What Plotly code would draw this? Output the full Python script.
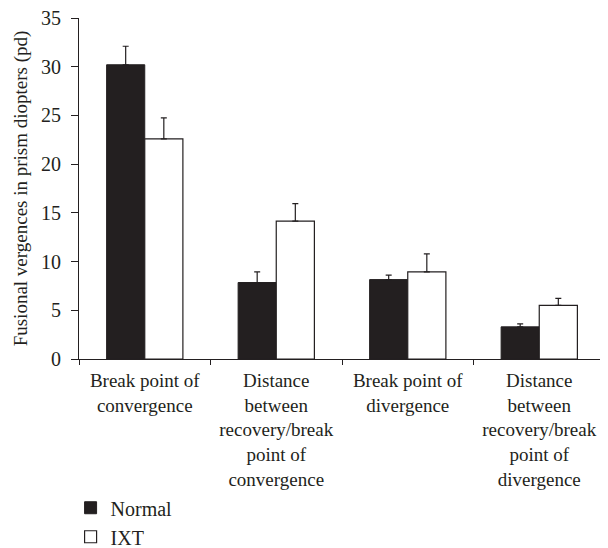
import plotly.graph_objects as go

categories = [
    "Break point of<br>convergence",
    "Distance<br>between<br>recovery/break<br>point of<br>convergence",
    "Break point of<br>divergence",
    "Distance<br>between<br>recovery/break<br>point of<br>divergence",
]
normal_vals = [30.2, 7.85, 8.15, 3.3]
normal_err = [1.9, 1.1, 0.45, 0.3]
ixt_vals = [22.6, 14.15, 8.95, 5.5]
ixt_err = [2.15, 1.8, 1.85, 0.72]
y_ticks = [0, 5, 10, 15, 20, 25, 30, 35]

FONT = "Liberation Serif"
INK = "#231f20"

fig = go.Figure()
fig.add_trace(go.Bar(
    name="Normal", x=categories, y=normal_vals,
    marker=dict(color=INK, line=dict(color=INK, width=1)),
    error_y=dict(type="data", array=normal_err, arrayminus=[0]*4, symmetric=False,
                 color=INK, thickness=1.2, width=3),
))
fig.add_trace(go.Bar(
    name="IXT", x=categories, y=ixt_vals,
    marker=dict(color="white", line=dict(color=INK, width=1.2)),
    error_y=dict(type="data", array=ixt_err, arrayminus=[0]*4, symmetric=False,
                 color=INK, thickness=1.2, width=3),
))

# page body has an 8px default margin, so the figure is 600x540 and offset by 8px
fig.update_layout(
    width=600, height=540,
    margin=dict(l=71, r=3, t=10, b=189, autoexpand=False),
    paper_bgcolor="white", plot_bgcolor="white",
    barmode="group", bargap=0.42, bargroupgap=0,
    font=dict(family=FONT, size=19, color=INK),
    showlegend=True,
    legend=dict(x=-0.016, y=-0.379, xanchor="left", yanchor="top",
                font=dict(family=FONT, size=20, color=INK),
                tracegroupgap=0, itemwidth=30, bgcolor="rgba(0,0,0,0)"),
    xaxis=dict(
        type="category", range=[-0.5, 3.5], tickson="boundaries",
        showline=True, linecolor=INK, linewidth=1.2,
        ticks="outside", ticklen=5, tickcolor=INK,
        tickfont=dict(family=FONT, size=19, color=INK),
        ticklabelstandoff=4, ticklabeloverflow="allow",
        showgrid=False, zeroline=False, automargin=False,
    ),
    yaxis=dict(
        range=[0, 35], tickvals=y_ticks,
        showline=True, linecolor=INK, linewidth=1.2,
        ticks="outside", ticklen=7, tickcolor=INK,
        tickfont=dict(family=FONT, size=20, color=INK),
        ticklabelstandoff=6, ticklabeloverflow="allow",
        showgrid=False, zeroline=False, automargin=False,
        title=dict(text="Fusional vergences in prism diopters (pd)",
                   font=dict(family=FONT, size=19, color=INK), standoff=8),
    ),
)

fig.write_html("out.html")
